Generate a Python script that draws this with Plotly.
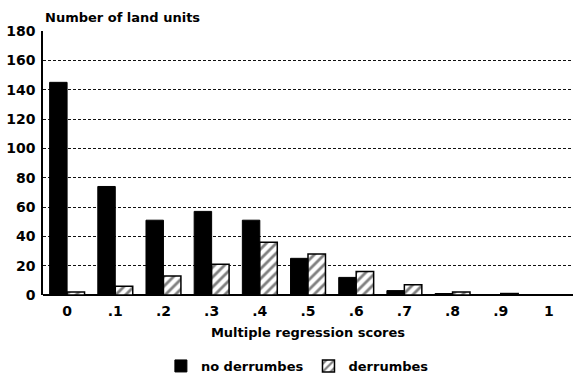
import plotly.graph_objects as go

# Regression score classes and land-unit counts
scores = ["0", ".1", ".2", ".3", ".4", ".5", ".6", ".7", ".8", ".9", "1"]
no_derrumbes = [145, 74, 51, 57, 51, 25, 12, 3, 1, 0, 0]
derrumbes = [2, 6, 13, 21, 36, 28, 16, 7, 2, 1, 0]
y_ticks = [0, 20, 40, 60, 80, 100, 120, 140, 160, 180]

FONT = "DejaVu Sans"

fig = go.Figure()
fig.add_trace(go.Bar(
    x=scores, y=no_derrumbes, name="no derrumbes",
    marker=dict(color="#000000", line=dict(color="#000000", width=1)),
))
fig.add_trace(go.Bar(
    x=scores, y=derrumbes, name="derrumbes",
    marker=dict(color="#ffffff",
                line=dict(color="#000000", width=1.5),
                pattern=dict(shape="/", fgcolor="#000000", bgcolor="#ffffff",
                             size=7, solidity=0.4)),
))

fig.update_layout(
    width=573, height=381,
    margin=dict(l=43, r=0, t=31, b=86),
    paper_bgcolor="white", plot_bgcolor="white",
    barmode="group", bargap=0.275, bargroupgap=0,
    font=dict(family=FONT, size=13, color="#000000"),
    showlegend=True,
    legend=dict(orientation="h", x=0.48, xanchor="center", y=-0.269, yanchor="middle",
                font=dict(family=FONT, size=13, color="#000000", weight="bold"),
                itemwidth=30, traceorder="normal"),
    xaxis=dict(
        type="category", showgrid=False, ticks="", automargin=False,
        tickfont=dict(family=FONT, size=14, weight="bold"),
        ticklabelstandoff=6,
        title=dict(text="Multiple regression scores",
                   font=dict(family=FONT, size=13, weight="bold"), standoff=9),
        showline=False,
    ),
    yaxis=dict(
        range=[0, 180], tickvals=y_ticks, ticks="", automargin=False,
        tickfont=dict(family=FONT, size=14, weight="bold"),
        showgrid=True, gridcolor="#111111", griddash="3px,2px", gridwidth=1.3,
        showline=True, linecolor="#000000", linewidth=1.5,
        zeroline=True, zerolinecolor="#000000", zerolinewidth=2,
        ticklabelstandoff=3,
    ),
)

fig.add_annotation(text="Number of land units", xref="paper", yref="paper",
                   x=0.0, y=1.0, xanchor="left", yanchor="bottom", yshift=4,
                   showarrow=False,
                   font=dict(family=FONT, size=13, weight="bold", color="#000000"))

fig.write_html("out.html")
